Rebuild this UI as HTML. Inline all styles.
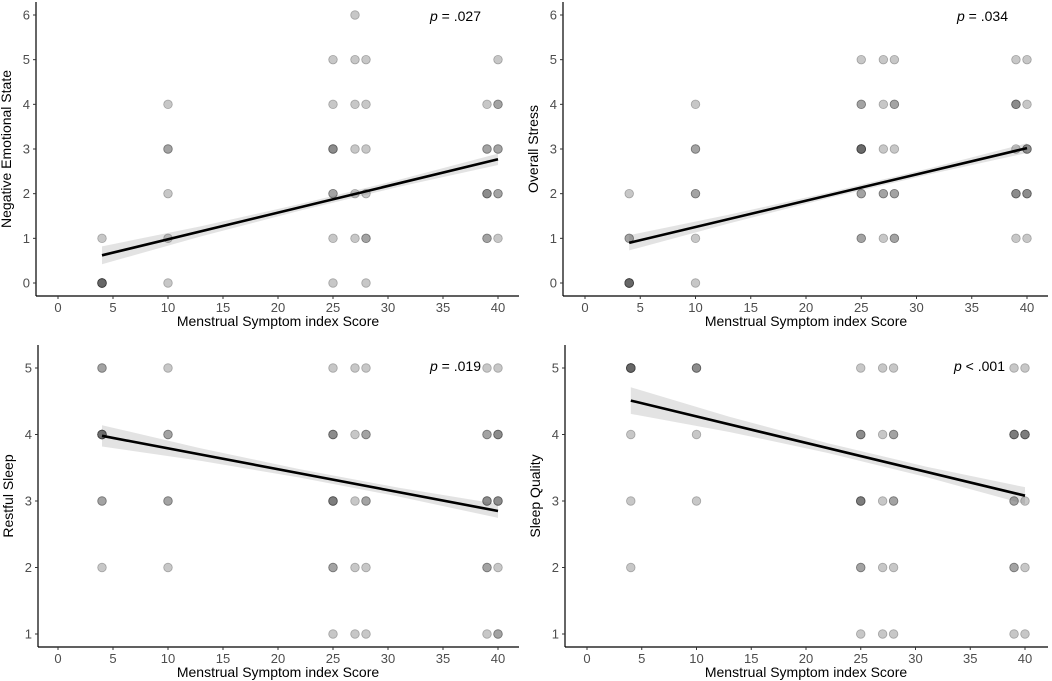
<!DOCTYPE html>
<html><head><meta charset="utf-8"><style>
body{margin:0;background:#fff}
svg{display:block;font-family:"Liberation Sans",sans-serif}
</style></head><body>
<svg id="c" width="1052" height="681"></svg>
<script>
const xTicks=[0,5,10,15,20,25,30,35,40];
const yTicksTop=[0,1,2,3,4,5,6];
const yTicksBottom=[1,2,3,4,5];
const titles=["Negative Emotional State","Overall Stress","Restful Sleep","Sleep Quality"];
const pLabels=["= .027","= .034","= .019","<  .001"];
const lineStart=[0.62,0.90,3.98,4.51];
const lineEnd=[2.77,3.02,2.85,3.08];
const ciEnd=[0.2,0.17,0.16,0.2];
const ciMid=[0.07,0.06,0.06,0.07];
const pts1=[[4,0,8],[4,1,1],[10,0,1],[10,1,1],[10,2,1],[10,3,2],[10,4,1],[25,0,1],[25,1,1],[25,2,2],[25,3,3],[25,4,1],[25,5,1],[27,1,1],[27,2,1],[27,3,1],[27,4,1],[27,5,1],[27,6,1],[28,0,1],[28,1,2],[28,2,1],[28,3,1],[28,4,1],[28,5,1],[39,1,2],[39,2,3],[39,3,2],[39,4,1],[40,1,1],[40,2,2],[40,3,2],[40,4,2],[40,5,1]];
const pts2=[[4,0,8],[4,1,2],[4,2,1],[10,0,1],[10,1,1],[10,2,2],[10,3,2],[10,4,1],[25,1,2],[25,2,2],[25,3,7],[25,4,2],[25,5,1],[27,1,1],[27,2,2],[27,3,1],[27,4,1],[27,5,1],[28,1,2],[28,2,2],[28,3,1],[28,4,2],[28,5,1],[39,1,1],[39,2,3],[39,3,1],[39,4,3],[39,5,1],[40,1,1],[40,2,3],[40,3,3],[40,4,1],[40,5,1]];
const pts3=[[4,2,1],[4,3,2],[4,4,6],[4,5,2],[10,2,1],[10,3,2],[10,4,2],[10,5,1],[25,1,1],[25,2,2],[25,3,4],[25,4,3],[25,5,1],[27,1,1],[27,2,1],[27,3,1],[27,4,1],[27,5,1],[28,1,1],[28,2,1],[28,3,2],[28,4,2],[28,5,1],[39,1,1],[39,2,2],[39,3,3],[39,4,2],[39,5,1],[40,1,2],[40,2,1],[40,3,3],[40,4,3],[40,5,1]];
const pts4=[[4,2,1],[4,3,1],[4,4,1],[4,5,8],[10,3,1],[10,4,1],[10,5,3],[25,1,1],[25,2,2],[25,3,4],[25,4,3],[25,5,1],[27,1,1],[27,2,1],[27,3,1],[27,4,1],[27,5,1],[28,1,1],[28,2,1],[28,3,2],[28,4,2],[28,5,1],[39,1,1],[39,2,2],[39,3,2],[39,4,4],[39,5,1],[40,1,1],[40,2,1],[40,3,1],[40,4,4],[40,5,1]];
const allPts=[pts1,pts2,pts3,pts4];
const geo=[
 {ax:36,x0:58,x1:498,right:519,top:2,base:296,yv0:0,yp0:283,yv1:6,yp1:15,ticks:yTicksTop,px:430,py:21},
 {ax:563,x0:585,x1:1027,right:1048,top:2,base:296,yv0:0,yp0:283,yv1:6,yp1:15,ticks:yTicksTop,px:957,py:21},
 {ax:38,x0:58,x1:498,right:519,top:345,base:647,yv0:1,yp0:634,yv1:5,yp1:368,ticks:yTicksBottom,px:430,py:371},
 {ax:565,x0:587,x1:1025,right:1048,top:345,base:647,yv0:1,yp0:634,yv1:5,yp1:368,ticks:yTicksBottom,px:954,py:371}];
const svg=document.getElementById('c');const NS='http://www.w3.org/2000/svg';
function mk(t,a,p){const e=document.createElementNS(NS,t);for(const k in a)e.setAttribute(k,a[k]);(p||svg).appendChild(e);return e;}
geo.forEach((g,i)=>{
 const G=mk('g',{});
 
 
 const X=v=>g.x0+(v-0)*(g.x1-g.x0)/40;
 const Y=v=>g.yp0+(v-g.yv0)*(g.yp1-g.yp0)/(g.yv1-g.yv0);
 const xs=[4,13,22,31,40];
 const up=[],lo=[];
 xs.forEach((x,k)=>{const t=(x-4)/36;const y=lineStart[i]+(lineEnd[i]-lineStart[i])*t;
  const w=ciMid[i]+(ciEnd[i]-ciMid[i])*Math.pow((t-0.6)/0.6,2);
  up.push(X(x)+','+Y(y+w));lo.unshift(X(x)+','+Y(y-w));});
 const band=mk('polygon',{points:up.concat(lo).join(' '),fill:'#d9d9d9','fill-opacity':0.75},G);
 
 
 allPts[i].forEach(p=>{for(let k=0;k<p[2];k++){const c=mk('circle',{cx:X(p[0]),cy:Y(p[1]),r:4.3,fill:'rgba(100,100,100,0.36)',stroke:'rgba(50,50,50,0.35)','stroke-width':0.8},G);
  
  }});
 const ln=mk('line',{x1:X(4),y1:Y(lineStart[i]),x2:X(40),y2:Y(lineEnd[i]),stroke:'#000','stroke-width':2.6},G);
 
 
 const ya=mk('line',{x1:g.ax,y1:g.top,x2:g.ax,y2:g.base,stroke:'#000','stroke-width':1.2},G);
 
 
 const xa=mk('line',{x1:g.ax,y1:g.base,x2:g.right,y2:g.base,stroke:'#000','stroke-width':1.2},G);
 
 
 xTicks.forEach(v=>{mk('line',{x1:X(v),y1:g.base,x2:X(v),y2:g.base+3,stroke:'#333'},G);
  const t=mk('text',{x:X(v),y:g.base+16,'text-anchor':'middle','font-size':13,fill:'#4d4d4d'},G);t.textContent=v;
  
  });
 g.ticks.forEach(v=>{mk('line',{x1:g.ax-3,y1:Y(v),x2:g.ax,y2:Y(v),stroke:'#333'},G);
  const t=mk('text',{x:g.ax-6,y:Y(v)+4.5,'text-anchor':'end','font-size':13,fill:'#4d4d4d'},G);t.textContent=v;
  
  });
 const xt=mk('text',{x:(g.x0+g.x1)/2,y:g.base+30,'text-anchor':'middle','font-size':14,fill:'#000'},G);
 xt.textContent='Menstrual Symptom index Score';
 
 
 const cy=(g.top+g.base)/2;
 const yt=mk('text',{x:g.ax-25,y:cy,'text-anchor':'middle','font-size':14,fill:'#000',transform:'rotate(-90 '+(g.ax-25)+' '+cy+')'},G);
 yt.textContent=titles[i];
 
 
 const pt=mk('text',{x:g.px,y:g.py,'font-size':14,fill:'#000'},G);
 pt.innerHTML='<tspan font-style="italic">p</tspan> '+pLabels[i];
 
 
});
</script>
</body></html>
